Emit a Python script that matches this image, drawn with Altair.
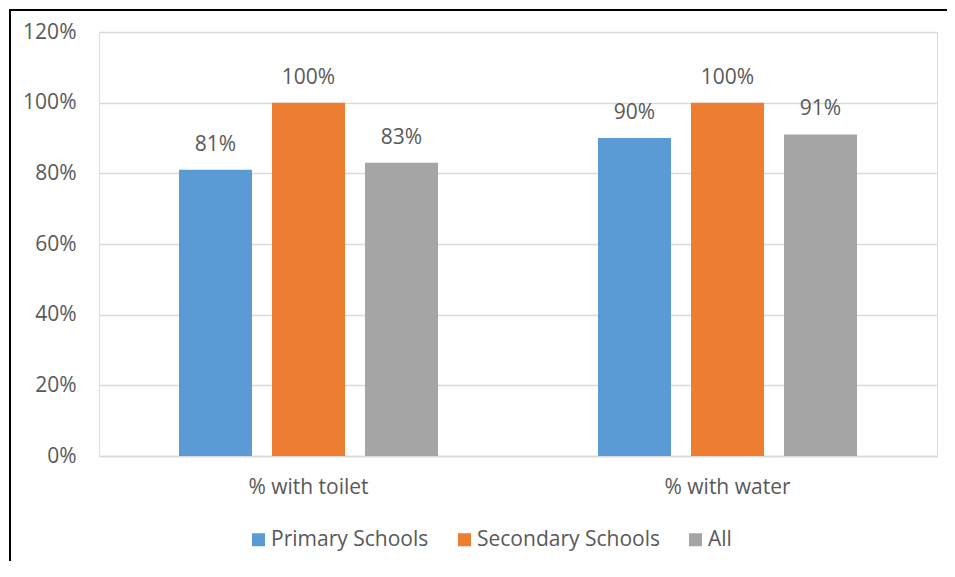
import altair as alt
import pandas as pd

categories = ["% with toilet", "% with water"]
groups = ["Primary Schools", "Secondary Schools", "All"]
toilet = [0.81, 1.00, 0.83]
water = [0.90, 1.00, 0.91]
colors = ["#5b9bd5", "#ed7d31", "#a5a5a5"]
y_ticks = [0, 0.2, 0.4, 0.6, 0.8, 1.0, 1.2]

rows = []
for cat, vals in zip(categories, [toilet, water]):
    for g, v in zip(groups, vals):
        rows.append({"category": cat, "group": g, "value": v})
df = pd.DataFrame(rows)

FONT = "Open Sans"
FS = 21
TXT = "#595959"
W, H = 838, 424
PAD = {"left": 91, "top": 24, "right": 10, "bottom": 105}

x_enc = alt.X("category:N", sort=categories, title=None,
              scale=alt.Scale(paddingInner=0, paddingOuter=0),
              axis=alt.Axis(labelAngle=0, labelFontSize=FS, labelColor=TXT, labelFont=FONT,
                            labelPadding=20, ticks=False, domainColor="#d9d9d9", domainWidth=1.5))
xo_enc = alt.XOffset("group:N", sort=groups,
                     scale=alt.Scale(paddingInner=0.215, paddingOuter=0.86))
y_enc = alt.Y("value:Q", title=None,
              scale=alt.Scale(domain=[0, 1.2], nice=False),
              axis=alt.Axis(values=y_ticks, format=".0%", labelFontSize=FS, labelColor=TXT,
                            labelFont=FONT, labelPadding=23, ticks=False, domain=False,
                            gridColor="#d9d9d9", gridWidth=1.5))

bars = alt.Chart(df).mark_bar().encode(
    x=x_enc, xOffset=xo_enc, y=y_enc,
    color=alt.Color("group:N", sort=groups, title=None,
                    scale=alt.Scale(domain=groups, range=colors),
                    legend=alt.Legend(orient="none", legendX=149, legendY=497,
                                      direction="horizontal", symbolType="square",
                                      symbolSize=169, symbolStrokeWidth=0,
                                      labelFontSize=FS, labelColor=TXT, labelFont=FONT,
                                      labelLimit=400, labelOffset=2, columnPadding=25)),
)

labels = alt.Chart(df).mark_text(baseline="middle", dy=-25, fontSize=FS, font=FONT, color=TXT).encode(
    x=alt.X("category:N", sort=categories),
    xOffset=alt.XOffset("group:N", sort=groups),
    y="value:Q",
    text=alt.Text("value:Q", format=".0%"),
)

frame = alt.Data(values=[{"a": 1}])
left_line = alt.Chart(frame).mark_rule(color="black", strokeWidth=2).encode(
    x=alt.value(-89), y=alt.value(-23), y2=alt.value(H + PAD["bottom"]),
)
top_line = alt.Chart(frame).mark_rule(color="black", strokeWidth=2).encode(
    x=alt.value(-90), x2=alt.value(W + PAD["right"]), y=alt.value(-22),
)

chart = alt.layer(left_line, top_line, bars, labels).properties(
    width=W, height=H,
    autosize=alt.AutoSizeParams(type="none"),
    padding=PAD,
).configure_view(stroke=None).configure(font=FONT)

chart.save("out.html", embed_options={"renderer": "svg", "actions": False})
